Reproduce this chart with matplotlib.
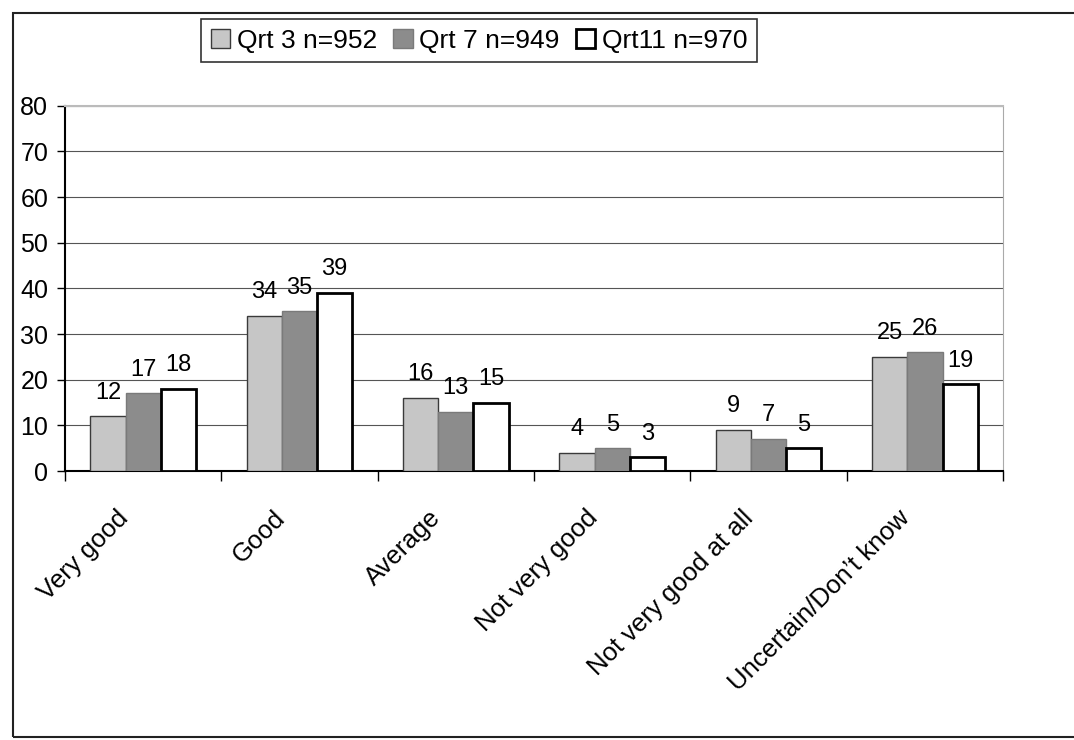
import matplotlib.pyplot as plt
import matplotlib.patches as patches
import matplotlib.transforms as mtransforms
import numpy as np

plt.rcParams['font.family'] = ['Liberation Sans', 'DejaVu Sans']

categories = ['Very good', 'Good', 'Average', 'Not very good',
              'Not very good at all', 'Uncertain/Don\u2019t know']
series = ['Qrt 3 n=952', 'Qrt 7 n=949', 'Qrt11 n=970']
qrt3 = [12, 34, 16, 4, 9, 25]
qrt7 = [17, 35, 13, 5, 7, 26]
qrt11 = [18, 39, 15, 3, 5, 19]

fig = plt.figure(figsize=(10.74, 7.40), dpi=100)
ax = fig.add_axes([0.0605, 0.3635, 0.8735, 0.4935])

x = np.arange(len(categories)) + 0.5
w = 0.225
styles = [
    dict(color='#c6c6c6', edgecolor='#3a3a3a', linewidth=1.0),
    dict(color='#8c8c8c', edgecolor='#7a7a7a', linewidth=1.0),
    dict(color='white', edgecolor='black', linewidth=2.0),
]

for i, (vals, name) in enumerate(zip([qrt3, qrt7, qrt11], series)):
    bars = ax.bar(x + (i - 1) * w, vals, w, label=name, zorder=3, **styles[i])
    for b, v in zip(bars, vals):
        ax.annotate(str(v), (b.get_x() + b.get_width() / 2, v),
                    xytext=(0, 17), textcoords='offset points',
                    ha='center', va='center', fontsize=17)

ax.set_xlim(0, 6)
ax.set_ylim(0, 80)
ax.set_yticks(range(0, 81, 10))
ax.tick_params(axis='y', labelsize=18, length=6, width=1, pad=6)
ax.yaxis.grid(True, color='#555555', linewidth=0.8, zorder=0)

ax.set_xticks(x)
ax.set_xticklabels(categories, rotation=45, ha='right', va='top',
                   rotation_mode='anchor', fontsize=18.5)
ax.tick_params(axis='x', which='major', length=0, pad=25)
ax.set_xticks(np.arange(0, 7), minor=True)
ax.tick_params(axis='x', which='minor', length=7, width=1, direction='out')

# shift category labels left so their ends sit just left of group centres
shift = mtransforms.ScaledTranslation(-0.27, 0, fig.dpi_scale_trans)
for lbl in ax.get_xticklabels():
    lbl.set_transform(lbl.get_transform() + shift)

ax.spines['left'].set_linewidth(1.5)
ax.spines['bottom'].set_linewidth(1.5)
ax.spines['top'].set_color('#bbbbbb')
ax.spines['right'].set_color('#aaaaaa')
ax.spines['top'].set_linewidth(1.5)

leg = fig.legend(loc='center', bbox_to_anchor=(0.446, 0.945), ncol=3,
                 fontsize=19, frameon=True, fancybox=False,
                 handlelength=0.75, handleheight=0.75, handletextpad=0.25,
                 columnspacing=0.6, borderpad=0.35, borderaxespad=0)
leg.get_frame().set_edgecolor('black')
leg.get_frame().set_linewidth(1.2)

frame = patches.Rectangle((0.012, 0.004), 1.2, 0.978, transform=fig.transFigure,
                          fill=False, edgecolor='#222222', linewidth=1.5,
                          clip_on=False)
fig.add_artist(frame)

fig.savefig('out.png', dpi=100, facecolor='white')
